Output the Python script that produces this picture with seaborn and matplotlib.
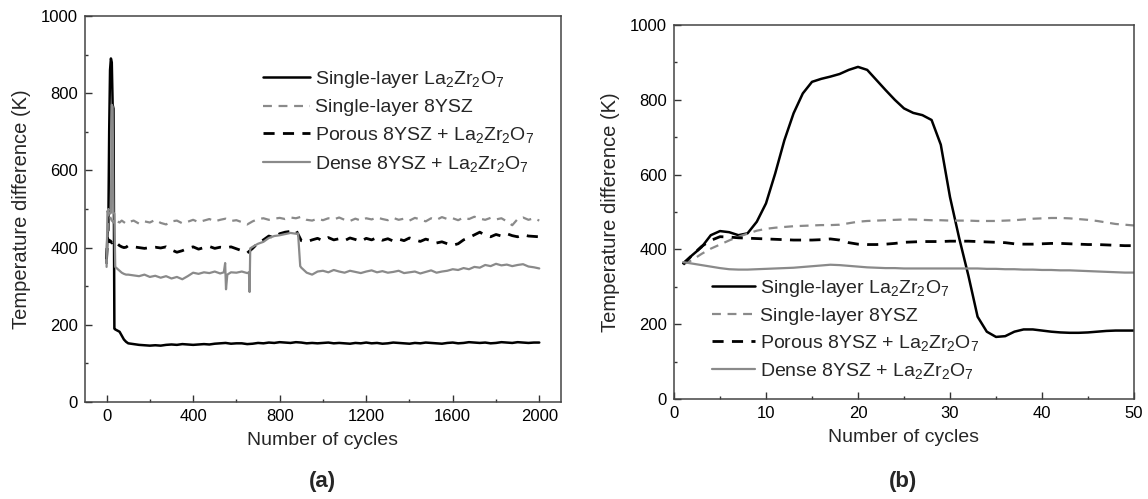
import numpy as np
import pandas as pd
import matplotlib
matplotlib.use("Agg")
import matplotlib.pyplot as plt
import seaborn as sns

# ---- data ----
labels = ["Single-layer La$_2$Zr$_2$O$_7$",
          "Single-layer 8YSZ",
          "Porous 8YSZ + La$_2$Zr$_2$O$_7$",
          "Dense 8YSZ + La$_2$Zr$_2$O$_7$"]

# panel (a): 2000 cycles
early_cycles = [0, 4, 8, 12, 16, 20, 24, 28, 32, 36, 40, 50, 60, 70, 80, 90]
main_cycles = list(range(100, 2001, 25))

la_early = [360, 440, 445, 700, 860, 890, 880, 770, 760, 190, 188, 185, 182, 172, 162, 156]
la_main = [152, 150, 148, 147, 146, 147, 146, 148, 149, 148,
           150, 149, 148, 149, 150, 149, 151, 152, 153, 151,
           152, 152, 150, 151, 153, 152, 154, 153, 155, 154,
           153, 155, 154, 152, 153, 152, 153, 154, 152, 153,
           152, 151, 153, 152, 154, 152, 153, 151, 152, 154,
           153, 152, 151, 153, 152, 154, 153, 152, 151, 153,
           154, 152, 153, 155, 154, 153, 154, 152, 153, 155,
           154, 153, 155, 154, 153, 154, 154]

ysz_early = [360, 420, 500, 490, 480, 475, 470, 468, 465, 470, 462, 468, 465, 470, 466, 462]
ysz_main = [466, 470, 462, 468, 465, 472, 464, 460, 468, 470,
            463, 467, 472, 466, 470, 474, 468, 472, 475, 469,
            471, 466, 460, 468, 474, 476, 472, 475, 477, 474,
            478, 476, 480, 472, 470, 475, 471, 476, 473, 478,
            472, 469, 475, 470, 476, 473, 478, 474, 471, 477,
            472, 475, 470, 477, 473, 468, 476, 472, 479, 474,
            476, 471, 478, 474, 480, 475, 472, 477, 473, 476,
            468, 458, 474, 478, 472, 476, 470]

por_early = [370, 425, 420, 415, 418, 416, 412, 414, 410, 412, 408, 410, 405, 402, 400, 401]
por_main = [405, 402, 400, 398, 400, 401, 399, 402, 394, 388,
            392, 398, 402, 396, 400, 403, 398, 401, 399, 402,
            397, 392, 386, 398, 412, 420, 430, 425, 436, 440,
            442, 446, 418, 415, 420, 424, 418, 426, 420, 423,
            418, 425, 421, 416, 424, 420, 426, 419, 423, 417,
            422, 418, 425, 420, 416, 422, 418, 412, 415, 410,
            406, 410, 420, 426, 433, 440, 432, 428, 434, 430,
            436, 431, 428, 433, 430, 429, 428]

dense_cycles = ([0, 4, 8, 12, 16, 20, 24, 28, 32, 36, 40, 50, 60, 70, 80, 90,
                 100, 125, 150, 175, 200, 225, 250, 275, 300, 325,
                 350, 375, 400, 425, 450, 475, 500, 525, 542, 548, 552, 558, 575,
                 600, 625, 650, 658, 661, 664, 675, 700, 725, 750, 775, 800, 825,
                 850, 875, 885, 895]
                + list(range(900, 2001, 25)))
dense_vals = [350, 495, 490, 490, 488, 490, 770, 765, 490, 488, 350, 345, 340, 335, 332, 330,
              330, 328, 326, 330, 324, 327, 322, 326, 320, 324,
              318, 326, 335, 332, 336, 334, 338, 333, 336, 360, 292, 330, 336,
              335, 338, 334, 336, 285, 398, 402, 410, 415, 425, 430, 432, 435,
              438, 436, 437, 352,
              348, 335, 330, 338, 340, 336, 342, 338, 335, 340,
              337, 334, 338, 341, 336, 339, 335, 337, 340, 334,
              336, 338, 333, 337, 341, 335, 338, 340, 344, 342,
              347, 344, 350, 348, 355, 352, 358, 354, 356, 352,
              355, 357, 351, 349, 346]

# panel (b): first 50 cycles
cycles_b = list(range(1, 51))
la_b = [363, 385, 406, 438, 449, 446, 438, 443, 474, 523,
        603, 692, 764, 817, 848, 856, 862, 869, 880, 888,
        880, 853, 826, 800, 777, 765, 759, 746, 680, 540,
        430, 330, 220, 180, 166, 168, 180, 186, 186, 183,
        180, 178, 177, 177, 178, 180, 182, 183, 183, 183]
ysz_b = [360, 372, 388, 402, 413, 424, 434, 442, 450, 455,
         458, 460, 462, 463, 464, 465, 465, 466, 470, 474,
         476, 477, 478, 479, 480, 480, 479, 478, 478, 477,
         477, 477, 476, 476, 476, 477, 478, 480, 482, 483,
         484, 484, 483, 481, 479, 476, 472, 468, 466, 464]
por_b = [360, 385, 408, 424, 434, 433, 431, 430, 429, 428,
         427, 426, 425, 425, 425, 426, 428, 425, 418, 414,
         413, 413, 414, 416, 419, 420, 421, 421, 421, 422,
         422, 422, 421, 420, 419, 418, 415, 414, 414, 415,
         416, 416, 415, 414, 413, 413, 412, 411, 410, 410]
dense_b = [366, 362, 358, 354, 350, 347, 346, 346, 347, 348,
           349, 350, 351, 353, 355, 357, 359, 358, 356, 354,
           352, 351, 350, 350, 349, 349, 349, 349, 349, 349,
           349, 349, 349, 348, 348, 347, 347, 346, 346, 345,
           345, 344, 344, 343, 342, 341, 340, 339, 338, 338]

# ---- style ----
sns.set_style("ticks")
plt.rcParams['font.family'] = ['Liberation Sans', 'DejaVu Sans']
plt.rcParams['mathtext.fontset'] = 'custom'
plt.rcParams['mathtext.rm'] = 'Liberation Sans'
plt.rcParams['mathtext.it'] = 'Liberation Sans:italic'
plt.rcParams['mathtext.bf'] = 'Liberation Sans:bold'

GRAY = '#8a8a8a'
styles = [dict(color='black', lw=1.8, ls='-'),
          dict(color=GRAY, lw=1.6, ls=(0, (4, 3))),
          dict(color='black', lw=2.0, ls=(0, (4, 3))),
          dict(color=GRAY, lw=1.6, ls='-')]

series_a = [(early_cycles + main_cycles, la_early + la_main),
            (early_cycles + main_cycles, ysz_early + ysz_main),
            (early_cycles + main_cycles, por_early + por_main),
            (dense_cycles, dense_vals)]
series_b = [(cycles_b, la_b), (cycles_b, ysz_b), (cycles_b, por_b), (cycles_b, dense_b)]

fig = plt.figure(figsize=(11.48, 4.99), dpi=100)
ax1 = fig.add_axes([0.074, 0.1944, 0.4146, 0.7735])
ax2 = fig.add_axes([0.5871, 0.2004, 0.4007, 0.7495])


def draw(ax, series):
    for (x, y), lab, st in zip(series, labels, styles):
        df = pd.DataFrame({'cycle': x, 'dT': y})
        sns.lineplot(data=df, x='cycle', y='dT', ax=ax, label=lab,
                     color=st['color'], linewidth=st['lw'], linestyle=st['ls'],
                     estimator=None)
    ax.set_ylim(0, 1000)
    ax.set_yticks(range(0, 1001, 200))
    ax.set_yticks(range(100, 1000, 200), minor=True)
    ax.tick_params(which='both', direction='in', top=False, right=False,
                   labelsize=12, colors='#333333', labelcolor='black')
    ax.tick_params(which='major', length=5, width=1.0, pad=5)
    ax.tick_params(which='minor', length=2.5, width=1.0)
    for sp in ax.spines.values():
        sp.set_visible(True)
        sp.set_linewidth(1.1)
        sp.set_color('#444444')
    ax.set_xlabel('Number of cycles', fontsize=14, labelpad=6)
    ax.set_ylabel('Temperature difference (K)', fontsize=14.5, labelpad=7)


draw(ax1, series_a)
ax1.set_xlim(-100, 2100)
ax1.set_xticks(range(0, 2001, 400))
ax1.set_xticks(range(200, 2000, 400), minor=True)
ax1.legend(loc='upper left', bbox_to_anchor=(263 / 1148, 1 - 69 / 499),
           bbox_transform=fig.transFigure, frameon=False, fontsize=14,
           handlelength=2.4, handletextpad=0.25, labelspacing=0.45,
           borderpad=0, borderaxespad=0)

draw(ax2, series_b)
ax2.set_xlim(0, 50)
ax2.set_xticks(range(0, 51, 10))
ax2.set_xticks(range(5, 50, 10), minor=True)
ax2.legend(loc='upper left', bbox_to_anchor=(712 / 1148, 1 - 278 / 499),
           bbox_transform=fig.transFigure, frameon=False, fontsize=14,
           handlelength=2.2, handletextpad=0.25, labelspacing=0.42,
           borderpad=0, borderaxespad=0)

fig.text(322 / 1148, 1 - 481 / 499, '(a)', fontsize=16, fontweight='bold',
         ha='center', va='center')
fig.text(903 / 1148, 1 - 481 / 499, '(b)', fontsize=16, fontweight='bold',
         ha='center', va='center')

fig.savefig('out.png', dpi=100)
